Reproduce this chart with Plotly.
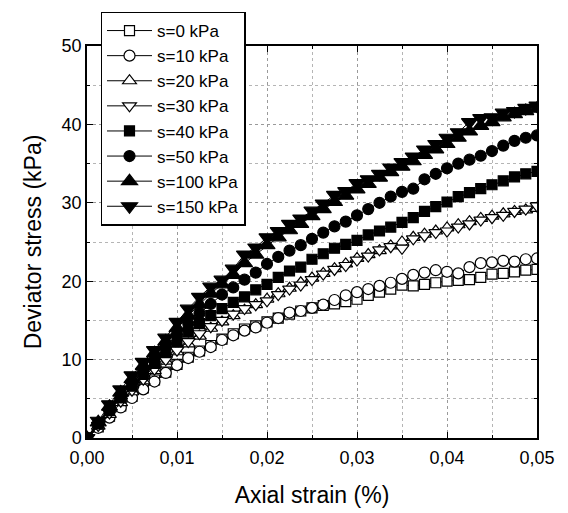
import plotly.graph_objects as go

strain = [0, 0.00125, 0.0025, 0.00375, 0.005, 0.00625, 0.0075, 0.00875, 0.01, 0.01125,
          0.0125, 0.01375, 0.015, 0.01625, 0.0175, 0.01875, 0.02, 0.02125, 0.0225, 0.02375,
          0.025, 0.02625, 0.0275, 0.02875, 0.03, 0.03125, 0.0325, 0.03375, 0.035, 0.03625,
          0.0375, 0.03875, 0.04, 0.04125, 0.0425, 0.04375, 0.045, 0.04625, 0.0475, 0.04875, 0.05]

s0 = [0, 1.4, 2.8, 4.1, 5.3, 6.4, 7.4, 8.4, 9.4, 10.3, 11.1, 11.8, 12.6, 13.3, 13.9, 14.3,
      14.8, 15.3, 15.8, 16.2, 16.6, 16.9, 17.1, 17.4, 17.7, 18.2, 18.6, 19.0, 19.5, 19.4,
      19.6, 19.8, 20.0, 20.1, 20.2, 20.5, 20.9, 21.0, 21.2, 21.4, 21.5]
s10 = [0, 1.3, 2.6, 3.9, 5.1, 6.2, 7.2, 8.3, 9.3, 10.2, 11.0, 11.6, 12.5, 13.1, 13.7, 14.1,
       14.7, 15.3, 16.0, 16.2, 16.6, 17.0, 17.6, 18.2, 18.6, 19.0, 19.4, 19.8, 20.3, 20.8,
       21.1, 21.4, 21.2, 21.0, 21.8, 22.3, 22.4, 22.6, 22.5, 22.8, 22.9]
s20 = [0, 1.5, 3.0, 4.5, 5.9, 7.3, 8.6, 9.8, 11.0, 12.0, 13.0, 14.0, 14.8, 15.6, 16.3, 17.0,
       17.7, 18.4, 19.1, 19.8, 20.4, 21.0, 21.6, 22.2, 22.9, 23.4, 23.9, 24.5, 25.0, 25.6,
       26.0, 26.4, 26.8, 27.2, 27.6, 28.0, 28.3, 28.6, 28.9, 29.1, 29.3]
s30 = [0, 1.6, 3.2, 4.7, 6.1, 7.5, 8.8, 10.0, 11.2, 12.3, 13.3, 14.2, 15.0, 15.8, 16.5, 17.0,
       17.5, 18.3, 19.0, 19.5, 20.2, 20.9, 21.5, 22.0, 22.7, 23.2, 24.0, 24.4, 24.2, 25.4,
       25.8, 26.2, 26.4, 26.9, 27.3, 27.8, 28.1, 28.4, 28.9, 29.2, 29.6]
s40 = [0, 1.8, 3.5, 5.1, 6.6, 8.1, 9.5, 10.9, 12.3, 13.5, 14.6, 15.6, 16.5, 17.3, 18.0, 18.9,
       19.6, 20.5, 21.3, 21.8, 22.8, 23.5, 24.2, 24.7, 25.2, 25.9, 26.4, 26.9, 27.5, 28.1,
       28.9, 29.5, 30.1, 30.8, 31.3, 31.8, 32.3, 32.8, 33.3, 33.7, 34.0]
s50 = [0, 1.9, 3.7, 5.4, 7.0, 8.6, 10.1, 11.6, 13.2, 14.6, 15.9, 17.1, 18.3, 19.2, 20.2, 21.1,
       22.2, 23.1, 23.9, 24.6, 25.4, 26.2, 27.0, 27.6, 28.4, 29.2, 30.0, 30.8, 31.4, 31.8,
       33.0, 33.7, 34.4, 35.0, 35.5, 36.0, 36.6, 37.3, 37.9, 38.3, 38.6]
s100 = [0, 2.0, 4.0, 5.8, 7.5, 9.2, 10.8, 12.3, 14.0, 15.6, 17.0, 18.4, 19.6, 20.8, 22.3, 23.4,
        24.6, 25.6, 26.5, 27.3, 28.3, 29.2, 30.1, 30.9, 31.7, 32.4, 33.2, 33.9, 34.6, 35.3,
        36.1, 36.8, 37.5, 38.3, 39.1, 39.8, 40.3, 40.9, 41.3, 41.7, 42.0]
s150 = [0, 2.2, 4.3, 6.2, 8.0, 9.7, 11.2, 12.8, 14.8, 16.5, 18.0, 19.3, 20.2, 21.6, 23.4, 24.3,
        25.6, 26.4, 27.3, 28.0, 29.0, 29.9, 31.0, 31.5, 32.5, 33.0, 33.7, 34.5, 35.2, 35.9,
        36.8, 37.5, 38.3, 39.0, 40.3, 40.8, 40.9, 41.5, 41.7, 42.1, 42.4]

names = ["s=0 kPa", "s=10 kPa", "s=20 kPa", "s=30 kPa", "s=40 kPa", "s=50 kPa", "s=100 kPa", "s=150 kPa"]
series = [s0, s10, s20, s30, s40, s50, s100, s150]
symbols = ["square", "circle", "triangle-up", "triangle-down", "square", "circle", "triangle-up", "triangle-down"]
fills = ["white", "white", "white", "white", "black", "black", "black", "black"]
sizes = [10, 11, 12, 12, 10, 11, 14, 14]

FONT = "Liberation Sans, Arial, sans-serif"

fig = go.Figure()
for n, ys, sym, fc, sz in zip(names, series, symbols, fills, sizes):
    fig.add_trace(go.Scatter(
        x=strain, y=ys, name=n, mode="lines+markers",
        line=dict(color="black", width=1),
        marker=dict(symbol=sym, size=sz, color=fc, line=dict(color="black", width=1.2)),
    ))

axis_common = dict(
    showline=True, linecolor="black", linewidth=1.5, mirror="ticks",
    ticks="inside", ticklen=6, tickwidth=1, tickcolor="black",
    showgrid=True, gridcolor="#9a9a9a", griddash="dot", gridwidth=1,
    zeroline=False, automargin=False,
    tickfont=dict(family=FONT, size=18, color="black"),
    title_font=dict(family=FONT, size=23, color="black"),
)

fig.update_xaxes(
    range=[0, 0.05], dtick=0.01, tick0=0, tickformat=".2f",
    title_text="Axial strain (%)", title_standoff=20,
    ticklabelstandoff=3,
    minor=dict(dtick=0.005, ticks="inside", ticklen=3, tickcolor="black",
               showgrid=True, gridcolor="#b5b5b5", griddash="dot"),
    **axis_common,
)
fig.update_yaxes(
    range=[0, 50], dtick=10, tick0=0,
    title_text="Deviator stress (kPa)", title_standoff=14,
    minor=dict(dtick=5, ticks="inside", ticklen=3, tickcolor="black",
               showgrid=True, gridcolor="#b5b5b5", griddash="dot"),
    **axis_common,
)

fig.update_layout(
    width=568, height=513,
    margin=dict(l=87, r=31, t=40, b=75),
    paper_bgcolor="white", plot_bgcolor="white",
    separators=",.",
    showlegend=True,
    legend=dict(
        x=0.03, y=1.088, xanchor="left", yanchor="top",
        bgcolor="white", bordercolor="black", borderwidth=1.5,
        font=dict(family=FONT, size=17, color="black"),
        tracegroupgap=0, itemwidth=45,
    ),
    font=dict(family=FONT, color="black"),
)

fig.write_html("out.html")
